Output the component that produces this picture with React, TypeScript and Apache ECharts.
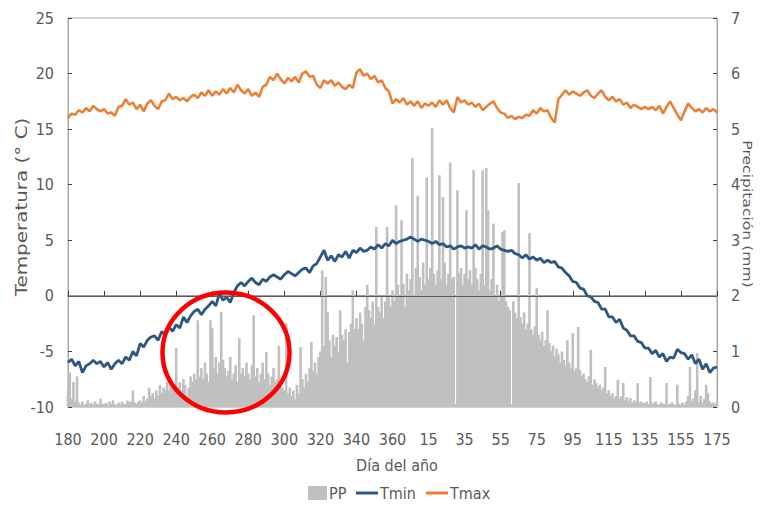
import React, { useEffect, useRef } from "react";
import * as echarts from "echarts";

// x positions are day indices from day 180 (index 0) to day 175 of next year (index 360)
const xTickLabels = ["180", "200", "220", "240", "260", "280", "300", "320", "340", "360", "15", "35", "55", "75", "95", "115", "135", "155", "175"];

// Daily precipitation (mm), index 0..360
const pp = [
  0.3, 0.62, 0.15, 0.45, 0.1, 0.55, 0.08, 0.05, 0.1, 0.04, 0.06, 0.12, 0.05, 0.08, 0.04, 0.1, 0.06, 0.05, 0.15, 0.06,
  0.05, 0.08, 0.04, 0.1, 0.06, 0.12, 0.05, 0.04, 0.08, 0.05, 0.1, 0.06, 0.05, 0.12, 0.08, 0.1, 0.3, 0.08, 0.06, 0.1,
  0.12, 0.08, 0.2, 0.1, 0.15, 0.35, 0.2, 0.25, 0.15, 0.3, 0.2, 0.4, 0.25, 0.35, 0.3, 0.45, 0.3, 0.5, 0.35, 0.4,
  1.06, 0.35, 0.45, 0.3, 0.5, 0.4, 0.2, 0.35, 0.55, 0.45, 0.6, 0.5, 1.56, 0.55, 0.7, 0.5, 0.8, 0.6, 0.45, 1.56,
  1.42, 0.7, 0.9, 0.6, 0.8, 1.71, 0.85, 0.7, 0.55, 0.65, 0.9, 0.5, 0.6, 0.75, 0.45, 1.24, 0.6, 0.7, 0.55, 0.8,
  0.6, 0.5, 0.75, 1.65, 0.55, 0.7, 0.45, 0.6, 0.8, 0.5, 0.99, 0.6, 0.4, 0.55, 0.7, 0.45, 0.5, 1.1, 0.4, 0.35,
  0.3, 1.51, 0.25, 0.35, 0.2, 0.3, 0.15, 0.4, 0.25, 1.08, 0.5, 0.35, 0.6, 0.45, 0.7, 1.17, 0.65, 0.8, 0.6, 0.9,
  1.0, 2.46, 1.1, 2.34, 1.71, 1.2, 0.9, 1.3, 1.1, 1.26, 1.0, 1.74, 1.3, 1.2, 1.4, 0.8, 1.35, 1.5, 2.1, 1.4,
  1.6, 1.4, 1.7, 1.5, 1.2, 1.8, 2.2, 1.74, 1.6, 1.9, 1.5, 3.24, 1.8, 1.7, 2.0, 1.6, 1.9, 3.24, 2.0, 1.8,
  2.1, 1.9, 3.63, 2.2, 2.0, 3.36, 2.22, 1.8, 2.4, 2.1, 2.3, 4.48, 2.0, 2.5, 3.8, 2.34, 2.1, 2.6, 2.2, 4.13,
  2.3, 2.5, 5.02, 2.4, 2.2, 2.46, 4.17, 2.3, 3.78, 2.6, 2.2, 2.4, 4.4, 2.3, 2.34, 0.05, 3.9, 2.4, 2.5, 2.2,
  2.4, 3.54, 2.3, 2.46, 2.2, 4.26, 2.5, 2.3, 2.1, 2.4, 4.26, 2.2, 4.3, 3.54, 2.1, 2.3, 3.3, 2.0, 2.2, 1.9,
  2.0, 3.15, 3.18, 1.9, 1.8, 1.74, 0.05, 1.9, 1.7, 1.6, 4.03, 1.62, 1.5, 1.7, 1.4, 1.5, 3.13, 1.4, 1.3, 1.45,
  2.14, 1.3, 1.2, 1.35, 1.1, 1.2, 1.74, 1.15, 1.0, 1.1, 0.9, 1.05, 0.95, 0.8, 1.0, 0.85, 0.75, 1.2, 0.8, 0.7,
  1.33, 0.65, 0.7, 1.44, 0.67, 0.55, 0.6, 0.5, 0.45, 0.55, 1.03, 0.4, 0.5, 0.43, 0.35, 0.4, 0.3, 0.35, 0.72, 0.25,
  0.3, 0.2, 0.25, 0.15, 0.2, 0.49, 0.15, 0.2, 0.43, 0.12, 0.18, 0.1, 0.16, 0.08, 0.12, 0.1, 0.43, 0.08, 0.1, 0.06,
  0.08, 0.1, 0.05, 0.54, 0.08, 0.06, 0.1, 0.05, 0.04, 0.08, 0.06, 0.05, 0.43, 0.04, 0.06, 0.08, 0.05, 0.04, 0.4, 0.06,
  0.05, 0.08, 0.04, 0.1, 0.2, 0.72, 0.1, 0.15, 0.3, 0.97, 0.1, 0.2, 0.08, 0.15, 0.4, 0.25, 0.1, 0.06, 0.08, 0.05,
  0.1,
];

// Minimum temperature (°C), every 2 days, index 0,2,...,360
const tmin = [
  -6.0, -5.7, -6.3, -5.9, -6.9, -6.3, -6.1, -5.8, -6.1, -5.9, -6.4, -6.0, -6.6, -6.1, -5.8, -6.1, -5.5, -5.8, -5.0, -5.4,
  -4.3, -4.6, -4.0, -3.7, -3.6, -4.0, -3.2, -3.5, -2.8, -3.2, -2.6, -2.9, -1.9, -2.4, -1.8, -1.4, -1.2, -1.7, -1.2, -0.9,
  -0.5, -0.9, 0.2, -0.4, -0.1, -0.6, 0.3, 0.9, 1.2, 0.9, 1.3, 1.6, 1.2, 1.0, 1.5, 1.3, 1.7, 1.9, 1.7, 1.5,
  1.9, 2.2, 2.0, 1.8, 2.1, 2.4, 2.5, 2.1, 2.7, 2.9, 3.5, 4.1, 3.2, 3.6, 3.1, 3.7, 3.5, 4.0, 3.4, 4.1,
  3.9, 4.3, 4.0, 4.1, 4.4, 4.2, 4.6, 4.3, 4.7, 4.5, 5.0, 4.7, 4.9, 5.0, 5.1, 5.3, 5.1, 4.9, 5.1, 5.0,
  4.9, 4.7, 4.9, 4.6, 4.7, 4.4, 4.5, 4.2, 4.4, 4.5, 4.3, 4.4, 4.3, 4.6, 4.2, 4.5, 4.4, 4.2, 4.3, 4.5,
  4.2, 4.1, 4.0, 4.1, 3.8, 3.7, 3.4, 3.7, 3.3, 3.5, 3.2, 3.4, 3.0, 3.2, 3.0, 3.1, 2.6, 2.5, 2.1, 1.8,
  1.3, 1.2, 0.7, 0.6, 0.0, -0.1, -0.5, -0.6, -1.2, -1.2, -1.9, -1.9, -2.4, -2.1, -2.9, -3.1, -3.6, -3.6, -4.1, -4.2,
  -4.7, -4.7, -5.2, -4.9, -5.5, -5.2, -5.9, -5.5, -5.6, -4.8, -5.1, -5.2, -5.7, -5.3, -6.1, -5.7, -6.6, -6.1, -6.9, -6.5, -6.4,
];

// Maximum temperature (°C), every 2 days, index 0,2,...,360
const tmax = [
  16.0, 16.4, 16.3, 16.7, 16.5, 16.9, 16.6, 17.1, 16.8, 16.6, 16.8, 16.4, 16.5, 16.2, 17.0, 17.1, 17.7, 17.2, 17.4, 16.8,
  17.2, 16.6, 17.3, 17.6, 17.1, 16.8, 17.5, 17.6, 18.2, 17.7, 17.9, 17.6, 17.8, 17.5, 17.9, 18.1, 17.8, 18.3, 18.0, 18.5,
  18.0, 18.4, 18.1, 18.6, 18.2, 18.7, 18.3, 19.0, 18.5, 18.2, 18.6, 18.0, 18.3, 17.9, 18.8, 19.0, 19.7, 19.4, 20.0, 19.5,
  19.1, 19.6, 19.3, 19.7, 19.2, 20.0, 20.2, 19.7, 19.8, 19.0, 18.7, 19.4, 19.1, 19.4, 18.9, 19.2, 18.8, 18.6, 19.0, 18.7,
  20.1, 20.4, 19.8, 20.0, 19.5, 19.8, 19.2, 19.4, 18.7, 18.4, 17.3, 17.7, 17.4, 17.8, 17.2, 17.5, 17.1, 17.5, 16.9, 17.3,
  17.1, 17.4, 17.0, 17.6, 17.2, 17.6, 16.9, 16.5, 17.9, 17.4, 17.6, 17.2, 17.4, 17.0, 17.3, 16.7, 17.0, 17.3, 17.5, 16.9,
  16.5, 16.4, 16.0, 16.2, 15.9, 16.1, 16.0, 16.3, 16.2, 16.7, 16.4, 16.9, 16.6, 16.7, 16.0, 15.6, 17.7, 18.1, 18.5, 18.1,
  18.4, 18.2, 18.0, 18.3, 18.5, 18.0, 17.8, 18.2, 18.5, 17.9, 17.6, 17.9, 17.5, 17.7, 17.2, 17.4, 16.9, 17.2, 17.0, 16.8,
  17.0, 16.8, 17.0, 16.7, 17.1, 16.4, 17.0, 17.5, 16.9, 16.3, 15.8, 16.6, 17.3, 16.9, 16.6, 16.8, 16.5, 16.9, 16.6, 16.8, 16.5,
];

const FONT_NARROW = '"Liberation Sans Narrow", "DejaVu Sans Condensed", "Liberation Sans", sans-serif';
const FONT_WIDE = '"DejaVu Sans", Verdana, sans-serif';
const C_TMIN = "#2a5783";
const C_TMAX = "#ed7d31";
const C_PP = "#c0c0c0";
const C_TEXT = "#595959";

export default function App() {
  const ref = useRef<HTMLDivElement>(null);

  useEffect(() => {
    if (!ref.current) return;
    const chart = echarts.init(ref.current, null, { renderer: "svg" });

    const ppData = pp.map((v, i) => [i, v]);
    const tminData = tmin.map((v, i) => [i * 2, v]);
    const tmaxData = tmax.map((v, i) => [i * 2, v]);

    chart.setOption({
      animation: false,
      grid: {
        left: 68,
        right: 44,
        top: 18,
        bottom: 101,
        show: true,
        borderColor: "#a6a6a6",
        borderWidth: 1,
      },
      xAxis: {
        type: "value",
        min: 0,
        max: 360,
        interval: 20,
        axisLine: { show: true, lineStyle: { color: "#7f7f7f", width: 1.5 } },
        axisTick: { show: true, inside: true, length: 5, lineStyle: { color: "#404040" } },
        splitLine: { show: false },
        axisLabel: {
          margin: 24,
          color: C_TEXT,
          fontSize: 16,
          fontFamily: FONT_NARROW,
          formatter: (v: number) => xTickLabels[Math.round(v / 20)] ?? "",
        },
      },
      yAxis: [
        {
          type: "value",
          min: -10,
          max: 25,
          interval: 5,
          axisLine: { show: true, lineStyle: { color: "#a6a6a6" } },
          axisTick: { show: true, inside: true, length: 4, lineStyle: { color: "#404040" } },
          splitLine: { show: false },
          axisLabel: { margin: 14, color: C_TEXT, fontSize: 16, fontFamily: FONT_NARROW },
        },
        {
          type: "value",
          min: 0,
          max: 7,
          interval: 1,
          position: "right",
          axisLine: { show: true, lineStyle: { color: "#a6a6a6" } },
          axisTick: { show: true, inside: true, length: 4, lineStyle: { color: "#404040" } },
          splitLine: { show: false },
          axisLabel: { margin: 14, color: C_TEXT, fontSize: 16, fontFamily: FONT_NARROW },
        },
      ],
      series: [
        {
          name: "PP",
          type: "bar",
          yAxisIndex: 1,
          data: ppData,
          barWidth: 2.6,
          itemStyle: { color: C_PP },
          silent: true,
        },
        {
          name: "Tmin",
          type: "line",
          data: tminData,
          showSymbol: false,
          lineStyle: { color: C_TMIN, width: 2.8 },
          itemStyle: { color: C_TMIN },
          silent: true,
          markLine: {
            silent: true,
            symbol: ["none", "none"],
            label: { show: false },
            lineStyle: { color: "#595959", width: 1, type: "solid" },
            data: [{ yAxis: 0 }],
          },
        },
        {
          name: "Tmax",
          type: "line",
          data: tmaxData,
          showSymbol: false,
          lineStyle: { color: C_TMAX, width: 2.5 },
          itemStyle: { color: C_TMAX },
          silent: true,
        },
      ],
      graphic: [
        {
          type: "text",
          x: 22,
          y: 207,
          rotation: Math.PI / 2,
          scaleX: 1.33,
          style: {
            text: "Temperatura (° C)",
            fontSize: 15,
            fontFamily: FONT_WIDE,
            fill: C_TEXT,
            textAlign: "center",
            textVerticalAlign: "middle",
          },
        },
        {
          type: "text",
          x: 748,
          y: 214,
          rotation: -Math.PI / 2,
          scaleX: 1.2,
          style: {
            text: "Precipitación (mm)",
            fontSize: 13,
            fontFamily: FONT_WIDE,
            fill: C_TEXT,
            textAlign: "center",
            textVerticalAlign: "middle",
          },
        },
        {
          type: "text",
          x: 397,
          y: 465,
          style: {
            text: "Día del año",
            fontSize: 16,
            fontFamily: FONT_NARROW,
            fill: C_TEXT,
            textAlign: "center",
            textVerticalAlign: "middle",
          },
        },
        // legend
        { type: "rect", shape: { x: 308, y: 486, width: 19, height: 14 }, style: { fill: C_PP } },
        {
          type: "text",
          x: 329,
          y: 493,
          style: { text: "PP", fontSize: 16, fontFamily: FONT_NARROW, fill: C_TEXT, textVerticalAlign: "middle" },
        },
        { type: "line", shape: { x1: 356, y1: 493, x2: 378, y2: 493 }, style: { stroke: C_TMIN, lineWidth: 3 } },
        {
          type: "text",
          x: 380,
          y: 493,
          style: { text: "Tmin", fontSize: 16, fontFamily: FONT_NARROW, fill: C_TEXT, textVerticalAlign: "middle" },
        },
        { type: "line", shape: { x1: 426, y1: 493, x2: 448, y2: 493 }, style: { stroke: C_TMAX, lineWidth: 3 } },
        {
          type: "text",
          x: 450,
          y: 493,
          style: { text: "Tmax", fontSize: 16, fontFamily: FONT_NARROW, fill: C_TEXT, textVerticalAlign: "middle" },
        },
        // red circle annotation
        {
          type: "ellipse",
          shape: { cx: 226, cy: 352.5, rx: 63.5, ry: 60 },
          style: { fill: "none", stroke: "#ff0000", lineWidth: 4.5 },
          z: 100,
        },
      ],
    });

    return () => {
      chart.dispose();
    };
  }, []);

  return (
    <div
      ref={ref}
      style={{ position: "fixed", left: 0, top: 0, width: 761, height: 508, background: "#ffffff" }}
    />
  );
}
